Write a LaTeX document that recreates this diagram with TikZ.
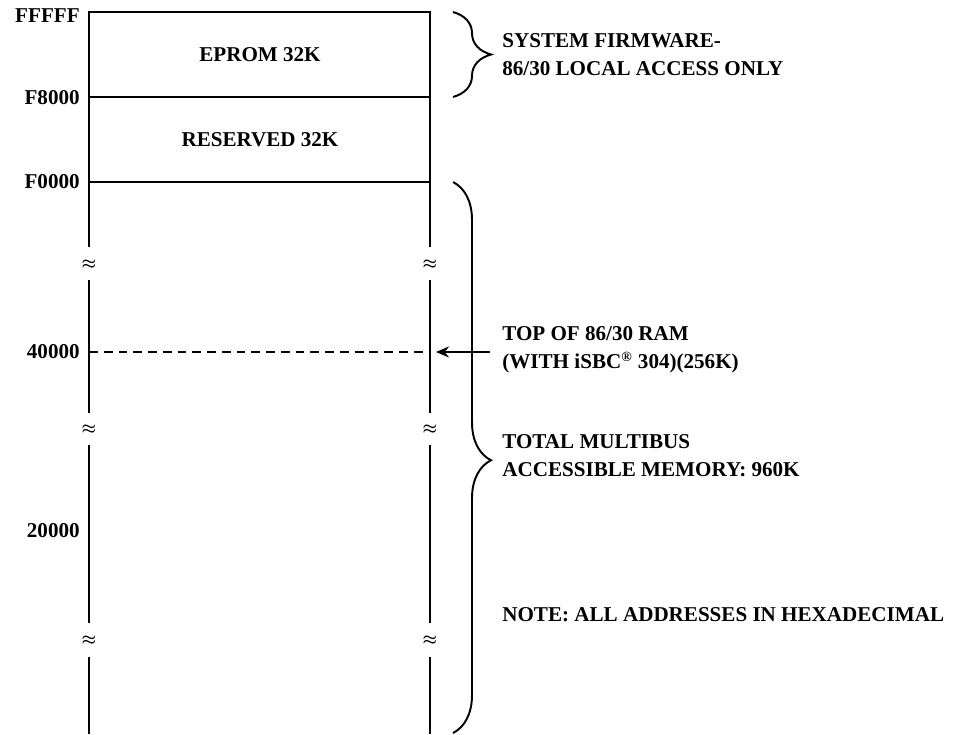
\documentclass[tikz,border=0pt]{standalone}
\usepackage{fontspec}
\setmainfont{Liberation Serif}
\usepackage{tikz}
\usetikzlibrary{decorations.pathreplacing}
\usetikzlibrary{arrows.meta,positioning}

\begin{document}
\begin{tikzpicture}[x=0.2mm,y=-0.2mm,
	txt/.style={font=\bfseries\fontsize{12}{16}\selectfont,inner sep=0pt},
	addr/.style={txt,anchor=east},
	side/.style={txt,anchor=west,align=left},
	wall/.style={line width=1.1pt},
	cut/.style={font=\small\boldmath,inner sep=0pt},
	brc/.style={line width=1.1pt,decorate,decoration={brace,amplitude=7.6mm}}]
	\useasboundingbox (0,0) rectangle (966,734);
	% the two fixed blocks at the top
	\draw[wall] (89,182) -- (89,12) -- (430,12) -- (430,182);
	\draw[wall] (89,97) -- (430,97);
	\draw[wall] (89,182) -- (430,182);
	\node[txt] (eprom) at (260,55) {EPROM 32K};
	\node[txt] (resv) at (260,140) {RESERVED 32K};
	% broken walls below F0000
	\foreach \x in {89,430} {
		\draw[wall] (\x,182) -- (\x,247);
		\draw[wall] (\x,280) -- (\x,413);
		\draw[wall] (\x,445) -- (\x,623);
		\draw[wall] (\x,657) -- (\x,734);
		\foreach \y in {265,430,641}
			\node[cut] (cut\x-\y) at (\x,\y) {$\approx$};
	}
	% addresses
	\node[addr] (fffff) at (80,16) {FFFFF};
	\node[addr] (f8000) at (80,98) {F8000};
	\node[addr] (f0000) at (80,182) {F0000};
	\node[addr] (a40000) at (80,352) {40000};
	\node[addr] (a20000) at (80,531) {20000};
	% top of RAM
	\coordinate (ramlo) at (89,352);
	\coordinate (ramhi) at (430,352);
	\draw[wall,dash pattern=on 5pt off 3.4pt] (ramlo) -- (ramhi);
	% braces and notes
	\draw[brc] (453,12) -- (453,97);
	\draw[brc,decoration={aspect=0.505}] (453,182) -- (453,733);
	\node[side] (fw) at (502,55) {SYSTEM FIRMWARE-\\86/30 LOCAL ACCESS ONLY};
	\node[side] (ramtop) at (502,350) {TOP OF 86/30 RAM\\(WITH iSBC\textsuperscript{\textregistered} 304)(256K)};
	\node[side] (total) at (502,456) {TOTAL MULTIBUS\\ACCESSIBLE MEMORY: 960K};
	\node[side] (hexnote) at (502,615) {NOTE: ALL ADDRESSES IN HEXADECIMAL};
	\draw[line width=1.1pt,-{Stealth[length=2.6mm,width=2.2mm]}] ([xshift=-2.4mm]ramtop.west |- ramhi) -- ([xshift=1.2mm]ramhi);
\end{tikzpicture}
\end{document}
